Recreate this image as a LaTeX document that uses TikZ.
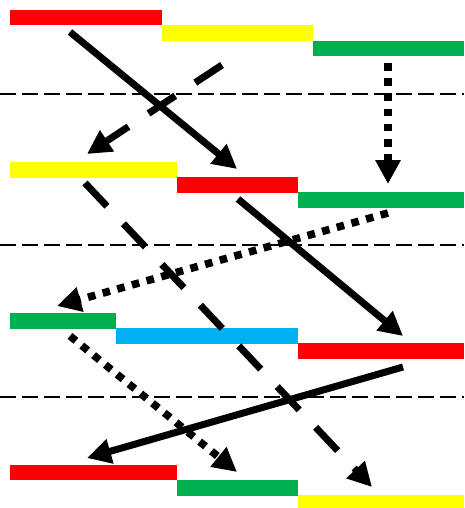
\documentclass[tikz,border=0pt]{standalone}
\usetikzlibrary{arrows.meta}
\definecolor{barred}{HTML}{FF0000}
\definecolor{baryellow}{HTML}{FFFF00}
\definecolor{bargreen}{HTML}{00B050}
\definecolor{barblue}{HTML}{00B0F0}
\tikzset{
  bar/.style={draw=none, inner sep=0pt, outer sep=0pt, anchor=north west, minimum height=15.5pt},
  sep/.style={line width=2pt, dash pattern=on 16pt off 6pt},
  arr/.style={line width=7pt, -{Triangle[length=24pt,width=24pt]}},
  solidarr/.style={arr},
  dasharr/.style={arr, dash pattern=on 32pt off 24pt},
  dotarr/.style={arr, dash pattern=on 7.6pt off 7.6pt, line width=7.6pt},
}
\begin{document}
\begin{tikzpicture}[x=1pt,y=-1pt]
\useasboundingbox (0,0) rectangle (464,508);
% row 1
\node[bar, fill=barred, minimum width=152pt] (r1a) at (10,10) {};
\node[bar, fill=baryellow, minimum width=151pt] (r1b) at (162,25.5) {};
\node[bar, fill=bargreen, minimum width=151pt] (r1c) at (313,41) {};
% row 2
\node[bar, fill=baryellow, minimum width=167pt] (r2a) at (10,162) {};
\node[bar, fill=barred, minimum width=121pt] (r2b) at (177,177) {};
\node[bar, fill=bargreen, minimum width=166pt] (r2c) at (298,192) {};
% row 3
\node[bar, fill=bargreen, minimum width=106pt] (r3a) at (10,313) {};
\node[bar, fill=barblue, minimum width=182pt] (r3b) at (116,328) {};
\node[bar, fill=barred, minimum width=166pt] (r3c) at (298,343) {};
% row 4
\node[bar, fill=barred, minimum width=167pt] (r4a) at (10,464.5) {};
\node[bar, fill=bargreen, minimum width=121pt] (r4b) at (177,480) {};
\node[bar, fill=baryellow, minimum width=166pt, minimum height=14pt] (r4c) at (298,494.5) {};
% separators
\coordinate (s1l) at (0,94);  \coordinate (s1r) at (464,94);
\coordinate (s2l) at (0,245); \coordinate (s2r) at (464,245);
\coordinate (s3l) at (0,397); \coordinate (s3r) at (464,397);
\draw[sep] (s1l) -- (s1r);
\draw[sep] (s2l) -- (s2r);
\draw[sep] (s3l) -- (s3r);
% arrow end points
\coordinate (a1s) at (70,32);   \coordinate (a1e) at (237,169);
\coordinate (a2s) at (222,65);  \coordinate (a2e) at (87,154);
\coordinate (a3s) at (388,63);  \coordinate (a3e) at (388,184);
\coordinate (a4s) at (85,183);  \coordinate (a4e) at (372,487);
\coordinate (a5s) at (238,199); \coordinate (a5e) at (403,336);
\coordinate (a6s) at (388,213); \coordinate (a6e) at (57,306);
\coordinate (a7s) at (70,336);  \coordinate (a7e) at (237,472);
\coordinate (a8s) at (403,367); \coordinate (a8e) at (87,458);
\draw[solidarr] (a1s) -- (a1e);
\draw[dasharr] (a2s) -- (a2e);
\draw[dotarr] (a3s) -- (a3e);
\draw[dasharr] (a4s) -- (a4e);
\draw[solidarr] (a5s) -- (a5e);
\draw[dotarr] (a6s) -- (a6e);
\draw[dotarr] (a7s) -- (a7e);
\draw[solidarr] (a8s) -- (a8e);
\end{tikzpicture}
\end{document}
